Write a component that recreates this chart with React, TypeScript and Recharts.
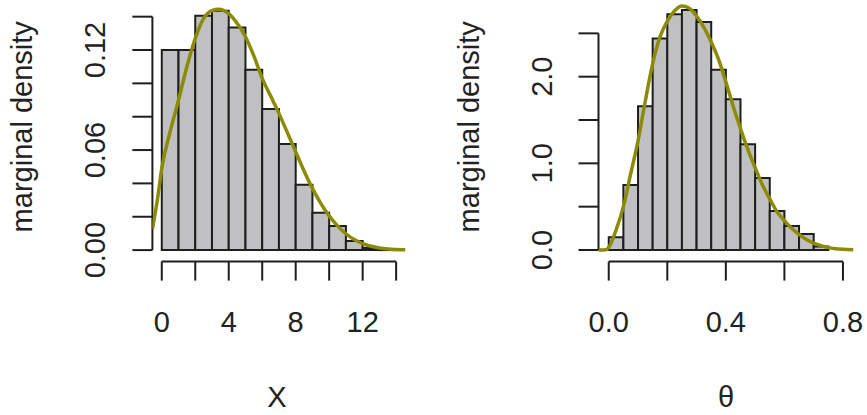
import React from 'react';
import { ComposedChart, Line, XAxis, YAxis, ReferenceArea, ReferenceLine } from 'recharts';

// ---- Left panel: X ----
const xBreaks = [0, 1, 2, 3, 4, 5, 6, 7, 8, 9, 10, 11, 12, 13, 14];
const xDensity = [0.12, 0.12, 0.1405, 0.1435, 0.1335, 0.1082, 0.0846, 0.0636, 0.0392, 0.0224, 0.0144, 0.0055, 0.0012, 0.0004];
const xCurveX = [-0.56, -0.25, 0, 0.5, 1, 1.5, 2, 2.5, 3, 3.4, 4, 4.5, 5, 5.5, 6, 6.5, 7, 7.5, 8, 8.5, 9, 9.5, 10, 10.5, 11, 11.5, 12, 12.5, 13, 13.5, 14, 14.56];
const xCurveY = [0.0125, 0.031, 0.049, 0.071, 0.09, 0.11, 0.127, 0.139, 0.1437, 0.1445, 0.1418, 0.136, 0.128, 0.1165, 0.103, 0.0925, 0.082, 0.0705, 0.059, 0.0475, 0.037, 0.028, 0.0205, 0.0145, 0.0098, 0.0063, 0.0039, 0.0023, 0.0013, 0.0007, 0.0004, 0.0002];
const xTicks = [0, 2, 4, 6, 8, 10, 12, 14];
const xTickLabels = ['0', '', '4', '', '8', '', '12', ''];
const xDensityTicks = [0, 0.02, 0.04, 0.06, 0.08, 0.1, 0.12, 0.14];
const xDensityTickLabels = ['0.00', '', '', '0.06', '', '', '0.12', ''];

// ---- Right panel: theta ----
const thetaBreaks = [0, 0.05, 0.1, 0.15, 0.2, 0.25, 0.3, 0.35, 0.4, 0.45, 0.5, 0.55, 0.6, 0.65, 0.7, 0.75];
const thetaDensity = [0.146, 0.75, 1.66, 2.44, 2.72, 2.77, 2.63, 2.08, 1.74, 1.22, 0.83, 0.45, 0.277, 0.185, 0.04];
const thetaCurveX = [-0.035, -0.01, 0, 0.025, 0.05, 0.075, 0.1, 0.125, 0.15, 0.175, 0.2, 0.225, 0.25, 0.275, 0.3, 0.325, 0.35, 0.375, 0.4, 0.425, 0.45, 0.475, 0.5, 0.525, 0.55, 0.575, 0.6, 0.625, 0.65, 0.675, 0.7, 0.725, 0.75, 0.775, 0.8, 0.836];
const thetaCurveY = [0, 0.004, 0.03, 0.23, 0.5, 0.88, 1.26, 1.72, 2.15, 2.46, 2.64, 2.76, 2.815, 2.79, 2.7, 2.57, 2.4, 2.2, 1.94, 1.66, 1.4, 1.16, 0.95, 0.75, 0.59, 0.44, 0.34, 0.25, 0.18, 0.12, 0.08, 0.05, 0.027, 0.015, 0.008, 0.004];
const thetaTicks = [0, 0.2, 0.4, 0.6, 0.8];
const thetaTickLabels = ['0.0', '', '0.4', '', '0.8'];
const thetaDensityTicks = [0, 0.5, 1, 1.5, 2, 2.5];
const thetaDensityTickLabels = ['0.0', '', '1.0', '', '2.0', ''];

const FONT = 'Liberation Sans, Arial, Helvetica, sans-serif';
const TEXT_COLOR = '#222';
const FONT_SIZE = 29;
const AXIS_COLOR = '#1e1e1e';
const BAR_FILL = '#c0c0c2';
const CURVE_COLOR = '#8b8b05';

const CHART_H = 415;
const PLOT_BOTTOM = 261.6;
const YW = 60;
const XH = 30;

const XTick = (props: any) => {
  const { x, y, payload, ticks, labels } = props;
  const i = ticks.indexOf(payload.value);
  const t = i >= 0 ? labels[i] : '';
  if (!t) return <g />;
  return (
    <text x={x} y={y + 49} textAnchor="middle" fill={TEXT_COLOR} fontFamily={FONT} fontSize={FONT_SIZE}>
      {t}
    </text>
  );
};

const YTick = (props: any) => {
  const { x, y, payload, ticks, labels } = props;
  const i = ticks.indexOf(payload.value);
  const t = i >= 0 ? labels[i] : '';
  if (!t) return <g />;
  return (
    <text
      x={0}
      y={0}
      transform={`translate(${x - 25},${y}) rotate(-90)`}
      textAnchor="middle"
      fill={TEXT_COLOR}
      fontFamily={FONT}
      fontSize={FONT_SIZE}
    >
      {t}
    </text>
  );
};

const XTitle = (props: any) => {
  const vb = props.viewBox || {};
  const cx = (vb.x || 0) + (vb.width || 0) / 2 + (props.dx || 0);
  const by = (vb.y || 0) + 145.4;
  return (
    <text x={cx} y={by} textAnchor="middle" fill={TEXT_COLOR} fontFamily={FONT} fontSize={FONT_SIZE}>
      {props.text}
    </text>
  );
};

const YTitle = (props: any) => {
  const vb = props.viewBox || {};
  const bx = (vb.x || 0) + (vb.width || 0) - 120;
  const cy = (vb.y || 0) + (vb.height || 0) / 2 - 4;
  return (
    <text
      x={0}
      y={0}
      transform={`translate(${bx},${cy}) rotate(-90)`}
      textAnchor="middle"
      fill={TEXT_COLOR}
      fontFamily={FONT}
      fontSize={FONT_SIZE}
    >
      {props.text}
    </text>
  );
};

type PanelProps = {
  left: number;
  width: number;
  plotLeft: number;
  plotRight: number;
  breaks: number[];
  density: number[];
  curveX: number[];
  curveY: number[];
  xDomain: [number, number];
  yDomain: [number, number];
  xTicks: number[];
  xLabels: string[];
  yTicks: number[];
  yLabels: string[];
  xTitle: string;
  xTitleDx: number;
};

const Panel = (p: PanelProps) => {
  const data = p.curveX.map((x, i) => ({ x, d: p.curveY[i] }));
  const margin = {
    top: 0,
    left: p.plotLeft - YW,
    right: p.width - p.plotRight,
    bottom: CHART_H - PLOT_BOTTOM - XH,
  };
  const xFirst = p.xTicks[0];
  const xLast = p.xTicks[p.xTicks.length - 1];
  const yFirst = p.yTicks[0];
  const yLast = p.yTicks[p.yTicks.length - 1];
  return (
    <div style={{ position: 'absolute', left: p.left, top: 0 }}>
      <ComposedChart width={p.width} height={CHART_H} data={data} margin={margin}>
        <XAxis
          dataKey="x"
          type="number"
          domain={p.xDomain}
          allowDataOverflow
          ticks={p.xTicks}
          interval={0}
          axisLine={false}
          tickLine={{ stroke: AXIS_COLOR, strokeWidth: 2 }}
          tickSize={19}
          tickMargin={2}
          height={XH}
          tick={<XTick ticks={p.xTicks} labels={p.xLabels} />}
          label={<XTitle text={p.xTitle} dx={p.xTitleDx} />}
        />
        <YAxis
          type="number"
          domain={p.yDomain}
          allowDataOverflow
          ticks={p.yTicks}
          interval={0}
          axisLine={false}
          tickLine={{ stroke: AXIS_COLOR, strokeWidth: 2 }}
          tickSize={20}
          tickMargin={2}
          width={YW}
          tick={<YTick ticks={p.yTicks} labels={p.yLabels} />}
          label={<YTitle text="marginal density" />}
        />
        {p.density.map((h, i) => (
          <ReferenceArea
            key={`bin-${i}`}
            x1={p.breaks[i]}
            x2={p.breaks[i + 1]}
            y1={0}
            y2={h}
            fill={BAR_FILL}
            fillOpacity={1}
            stroke={AXIS_COLOR}
            strokeWidth={2}
            ifOverflow="visible"
          />
        ))}
        <ReferenceLine
          segment={[
            { x: p.xDomain[0], y: yFirst },
            { x: p.xDomain[0], y: yLast },
          ]}
          stroke={AXIS_COLOR}
          strokeWidth={2}
          ifOverflow="visible"
        />
        <ReferenceLine
          segment={[
            { x: xFirst, y: p.yDomain[0] },
            { x: xLast, y: p.yDomain[0] },
          ]}
          stroke={AXIS_COLOR}
          strokeWidth={2}
          ifOverflow="visible"
        />
        <Line
          type="monotone"
          dataKey="d"
          stroke={CURVE_COLOR}
          strokeWidth={3.5}
          dot={false}
          activeDot={false}
          isAnimationActive={false}
        />
      </ComposedChart>
    </div>
  );
}

export default function App() {
  return (
    <div style={{ position: 'fixed', left: 0, top: 0, width: 867, height: 415, background: '#ffffff', overflow: 'hidden' }}>
      <Panel
        left={0}
        width={433}
        plotLeft={152.4}
        plotRight={405.5}
        breaks={xBreaks}
        density={xDensity}
        curveX={xCurveX}
        curveY={xCurveY}
        xDomain={[-0.56, 14.56]}
        yDomain={[-0.0069, 0.15]}
        xTicks={xTicks}
        xLabels={xTickLabels}
        yTicks={xDensityTicks}
        yLabels={xDensityTickLabels}
        xTitle="X"
        xTitleDx={-2}
      />
      <Panel
        left={433}
        width={434}
        plotLeft={165.5}
        plotRight={420.5}
        breaks={thetaBreaks}
        density={thetaDensity}
        curveX={thetaCurveX}
        curveY={thetaCurveY}
        xDomain={[-0.035, 0.836]}
        yDomain={[-0.134, 2.885]}
        xTicks={thetaTicks}
        xLabels={thetaTickLabels}
        yTicks={thetaDensityTicks}
        yLabels={thetaDensityTickLabels}
        xTitle="θ"
        xTitleDx={0}
      />
    </div>
  );
}
